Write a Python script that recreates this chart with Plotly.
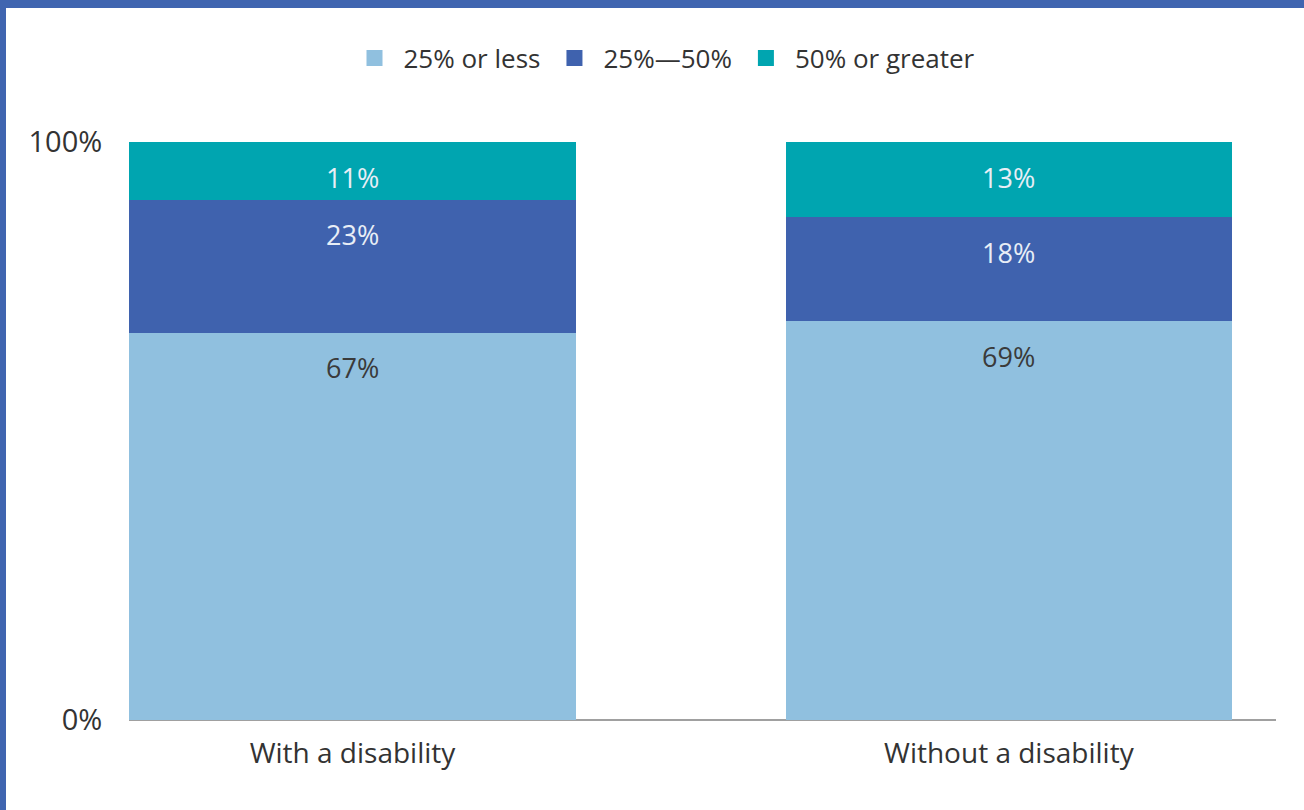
import plotly.graph_objects as go

categories = ["With a disability", "Without a disability"]
series_names = ["25% or less", "25%\u201450%", "50% or greater"]
low_vals = [67, 69]
mid_vals = [23, 18]
high_vals = [11, 13]
y_tick_vals = [0, 100]
y_tick_text = ["0%", "100%"]

colors = ["#90c0df", "#3f62ae", "#00a5b0"]
label_colors = ["#3a3a3a", "#e8eef6", "#e8eef6"]
FONT = "Open Sans, Noto Sans, sans-serif"

W, H = 1304, 810
L, R, T, B = 129, 28, 142, 90
pw, ph = W - L - R, H - T - B
YMAX = y_tick_vals[-1]

series = [low_vals, mid_vals, high_vals]
xpos = list(range(len(categories)))

fig = go.Figure()
for name, vals, col in zip(series_names, series, colors):
    fig.add_trace(go.Bar(x=xpos, y=vals, name=name, marker=dict(color=col, line=dict(width=0)),
                         showlegend=False, hoverinfo="skip"))
# legend swatches
for name, col in zip(series_names, colors):
    fig.add_trace(go.Scatter(x=[None], y=[None], mode="markers", name=name,
                             marker=dict(symbol="square", size=24, color=col)))

annotations = []
for i in xpos:
    cum = 0
    for vals, lc in zip(series, label_colors):
        cum += vals[i]
        annotations.append(dict(x=i, y=min(cum, YMAX), xref="x", yref="y", text=f"{vals[i]}%",
                                showarrow=False, yshift=-35, yanchor="middle",
                                font=dict(size=27, color=lc, family=FONT)))

def px2x(p):
    return (p - L) / pw

def py2y(p):
    return (H - B - p) / ph

shapes = [
    dict(type="rect", xref="paper", yref="paper", x0=px2x(0), x1=px2x(6), y0=py2y(H), y1=py2y(0),
         fillcolor="#4065b0", line=dict(width=0), layer="above"),
    dict(type="rect", xref="paper", yref="paper", x0=px2x(0), x1=px2x(W), y0=py2y(8), y1=py2y(0),
         fillcolor="#4065b0", line=dict(width=0), layer="above"),
]

fig.update_layout(
    width=W, height=H,
    margin=dict(l=L, r=R, t=T, b=B),
    barmode="stack", bargap=0.32,
    plot_bgcolor="white", paper_bgcolor="white",
    font=dict(family=FONT, color="#333333", size=26),
    legend=dict(orientation="h", x=px2x(663), xanchor="center", y=py2y(58), yanchor="middle",
                font=dict(size=26, color="#333333"), itemwidth=48, traceorder="normal",
                bgcolor="rgba(0,0,0,0)"),
    xaxis=dict(range=[-0.3405, 1.407], tickmode="array", tickvals=xpos, ticktext=categories,
               showgrid=False, zeroline=False, showline=False,
               ticks="outside", ticklen=8, tickcolor="rgba(0,0,0,0)",
               tickfont=dict(size=28, color="#333333")),
    yaxis=dict(range=[0, YMAX], tickmode="array", tickvals=y_tick_vals, ticktext=y_tick_text,
               showgrid=True, gridcolor="#d8d8d8", gridwidth=2,
               zeroline=True, zerolinecolor="#a0a0a0", zerolinewidth=2,
               showline=False, ticks="outside", ticklen=20, tickcolor="rgba(0,0,0,0)",
               tickfont=dict(size=29, color="#333333")),
    annotations=annotations,
    shapes=shapes,
)

fig.write_html("out.html")
